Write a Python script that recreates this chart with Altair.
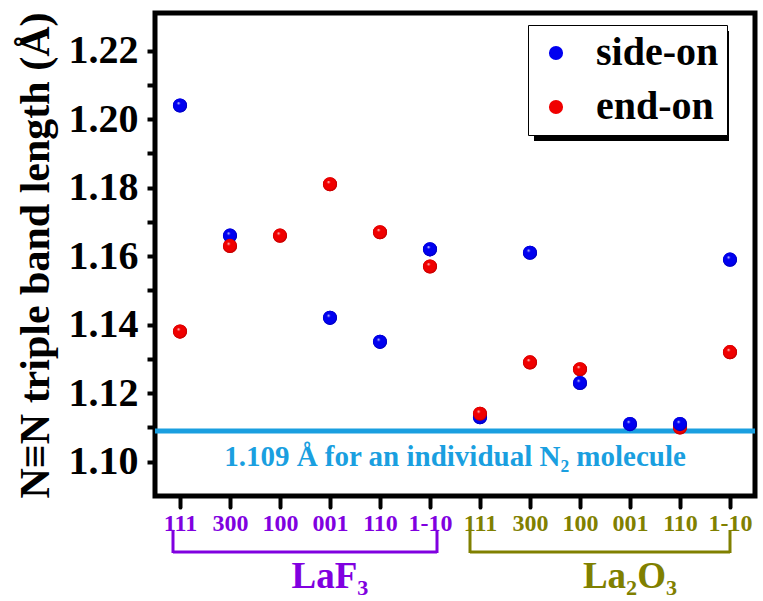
import json
import altair as alt
import pandas as pd

# Crystal facets along the x axis: LaF3 surfaces first, then La2O3 surfaces
facets = ["111", "300", "100", "001", "110", "1-10",
          "111", "300", "100", "001", "110", "1-10"]

# N≡N bond length (Å) for the two adsorption modes (None = not computed)
side_on = [1.204, 1.166, None, 1.142, 1.135, 1.162,
           1.113, 1.161, 1.123, 1.111, 1.111, 1.159]
end_on = [1.138, 1.163, 1.166, 1.181, 1.167, 1.157,
          1.114, 1.129, 1.127, None, 1.110, 1.132]

# Positions (1-based) where the end-on sphere sits in front of the side-on one
end_on_in_front = [2, 7]

free_n2 = 1.109  # bond length of an isolated N2 molecule

FONT = "Liberation Serif"
BLUE, RED = "#0000F0", "#F00000"
LINE_BLUE = "#1A9FE0"
PURPLE, OLIVE = "#8000E0", "#808000"

rows = []
for i, (s, e) in enumerate(zip(side_on, end_on), start=1):
    if s is not None:
        rows.append({"pos": i, "length": s, "mode": "side-on", "z": 2})
    if e is not None:
        rows.append({"pos": i, "length": e, "mode": "end-on",
                     "z": 3 if i in end_on_in_front else 1})
points = pd.DataFrame(rows)

x_scale = alt.Scale(domain=[0.5, 12.5], nice=False, zero=False)
y_scale = alt.Scale(domain=[1.09, 1.231], nice=False, zero=False)

label_expr = f"{json.dumps(facets)}[datum.value - 1]"

x_enc = alt.X("pos:Q", scale=x_scale, title=None,
              axis=alt.Axis(values=list(range(1, 13)), labelExpr=label_expr,
                            labelFont=FONT, labelFontSize=24, labelFontWeight="bold",
                            labelColor={"expr": f"datum.value <= 6 ? '{PURPLE}' : '{OLIVE}'"},
                            labelPadding=4, labelFlush=False, labelOverlap=False,
                            tickSize=11, tickWidth=4, tickColor="black", tickCap="round",
                            domain=False, grid=False))
y_ticks = [round(1.10 + 0.01 * k, 2) for k in range(13)]
y_enc = alt.Y("length:Q", scale=y_scale,
              title="N≡N triple band length (Å)",
              axis=alt.Axis(values=y_ticks,
                            labelExpr="round(datum.value * 100) % 2 == 0 ? format(datum.value, '.2f') : ''",
                            labelFont=FONT, labelFontSize=40, labelFontWeight="bold",
                            labelColor="black", labelPadding=9,
                            tickSize=8, tickWidth=4, tickColor="black",
                            titleFont=FONT, titleFontSize=42, titleFontWeight="bold",
                            titleColor="black", titleX=-120, titleY=242,
                            titleAngle=270, titleAlign="center", titleBaseline="middle",
                            domain=False, grid=False))

# Reference line for the free molecule and its caption
ref = pd.DataFrame({"length": [free_n2], "pos": [6.5],
                    "caption": ["1.109 Å for an individual N₂ molecule"]})
ref_line = alt.Chart(ref).mark_rule(color=LINE_BLUE, strokeWidth=5).encode(
    y=alt.Y("length:Q", scale=y_scale))
ref_text = alt.Chart(ref).mark_text(
    font=FONT, fontSize=29, fontWeight="bold", color=LINE_BLUE,
    baseline="alphabetic", align="center", dy=35).encode(
    x=alt.X("pos:Q", scale=x_scale), y=alt.Y("length:Q", scale=y_scale),
    text="caption:N")

# Solid spheres carry the legend; shaded spheres sit on top for the 3D look
legend = alt.Legend(orient="none", legendX=373, legendY=12, title=None,
                    labelFont=FONT, labelFontSize=40, labelFontWeight="bold",
                    labelColor="black", symbolType="circle", symbolSize=200,
                    symbolStrokeWidth=0, symbolOpacity=1, padding=8,
                    symbolOffset=0, labelOffset=20, rowPadding=14,
                    strokeColor="black", fillColor="white")
solid = alt.Chart(points).mark_circle(size=200, opacity=1).encode(
    x=x_enc, y=y_enc,
    color=alt.Color("mode:N", scale=alt.Scale(domain=["side-on", "end-on"],
                                              range=[BLUE, RED]), legend=legend),
    order=alt.Order("z:Q"))


def sphere(base, dark):
    return {"gradient": "radial", "x1": 0.38, "y1": 0.32, "r1": 0.0,
            "x2": 0.5, "y2": 0.5, "r2": 0.55,
            "stops": [{"offset": 0.0, "color": "#ffffff"},
                      {"offset": 0.22, "color": base},
                      {"offset": 0.75, "color": base},
                      {"offset": 1.0, "color": dark}]}


shaded = alt.Chart(points).mark_circle(size=200, opacity=1).encode(
    x=alt.X("pos:Q", scale=x_scale), y=alt.Y("length:Q", scale=y_scale),
    fill=alt.condition(alt.datum.mode == "side-on",
                       alt.value(sphere(BLUE, "#00009A")),
                       alt.value(sphere(RED, "#A00000"))),
    order=alt.Order("z:Q"))

# Drop shadow behind the legend box
shadow = alt.Chart(pd.DataFrame({"k": [0]})).mark_rect(color="black").encode(
    x=alt.value(379), x2=alt.value(574), y=alt.value(18), y2=alt.value(128))

# Brackets grouping the facets by substrate
groups = pd.DataFrame({
    "name": ["LaF₃", "La₂O₃"],
    "start": [0.86, 6.8],
    "end": [6.14, 12.0],
    "label_at": [4.0, 10.0],
    "color": [PURPLE, OLIVE],
})
color_id = alt.Color("color:N", scale=None)
bracket_h = alt.Chart(groups).mark_rule(strokeWidth=3).encode(
    x=alt.X("start:Q", scale=x_scale), x2="end:Q",
    y=alt.value(539), color=color_id)
bracket_l = alt.Chart(groups).mark_rule(strokeWidth=3).encode(
    x=alt.X("start:Q", scale=x_scale), y=alt.value(517), y2=alt.value(540),
    color=color_id)
bracket_r = alt.Chart(groups).mark_rule(strokeWidth=3).encode(
    x=alt.X("end:Q", scale=x_scale), y=alt.value(517), y2=alt.value(540),
    color=color_id)
group_text = alt.Chart(groups).mark_text(
    font=FONT, fontSize=37, fontWeight="bold", baseline="alphabetic", align="center").encode(
    x=alt.X("label_at:Q", scale=x_scale), y=alt.value(575), text="name:N",
    color=color_id)

chart = alt.layer(
    shadow, ref_line, ref_text, solid, shaded,
    bracket_h, bracket_l, bracket_r, group_text,
).properties(
    width=600, height=483,
    autosize=alt.AutoSizeParams(type="none"),
    padding={"left": 155, "top": 13, "right": 8, "bottom": 105},
    background="white",
).configure_view(stroke="black", strokeWidth=5)

chart.save("out.html", embed_options={"renderer": "svg", "actions": False})
